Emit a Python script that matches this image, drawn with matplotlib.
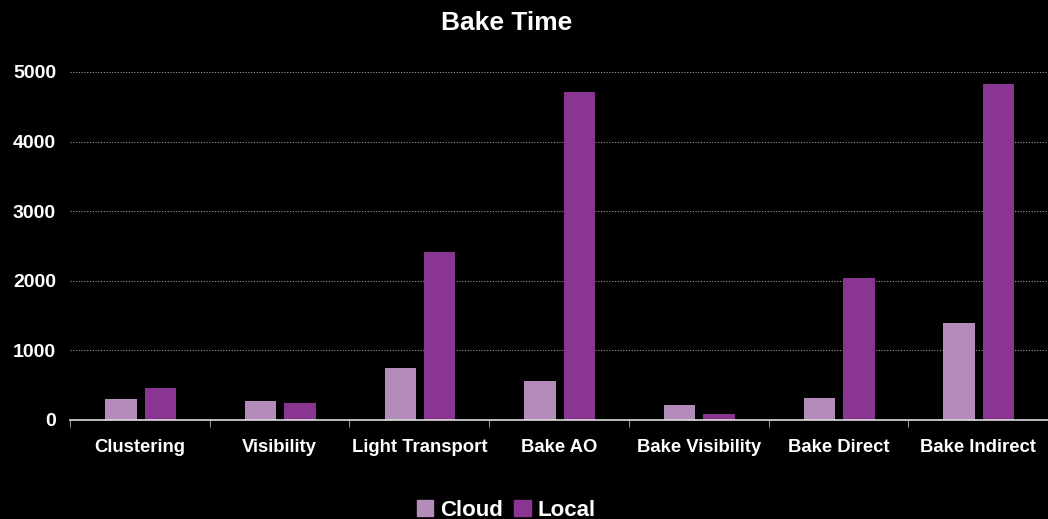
import numpy as np
import matplotlib
matplotlib.use("Agg")
import matplotlib.pyplot as plt
from matplotlib.patches import Patch

categories = ["Clustering", "Visibility", "Light Transport", "Bake AO",
              "Bake Visibility", "Bake Direct", "Bake Indirect"]
cloud = [300, 270, 750, 560, 210, 320, 1400]
local = [460, 250, 2420, 4710, 80, 2040, 4830]
yticks = [0, 1000, 2000, 3000, 4000, 5000]

cloud_color = "#b48cbb"
local_color = "#8b3593"

plt.rcParams["font.family"] = ["Liberation Sans", "DejaVu Sans"]

fig = plt.figure(figsize=(10.48, 5.19), dpi=100, facecolor="black")
ax = fig.add_axes([70 / 1048, 99 / 519, 978 / 1048, 348 / 519], facecolor="black")

x = np.arange(len(categories))
w = 0.225
ax.bar(x - 0.136, cloud, w, color=cloud_color, label="Cloud")
ax.bar(x + 0.146, local, w, color=local_color, label="Local")

ax.set_xlim(-0.5, len(categories) - 0.5)
ax.set_ylim(0, 5000)

# dotted horizontal grid
ax.set_yticks(yticks)
ax.yaxis.grid(True, linestyle=(0, (1, 1.5)), linewidth=0.8, color="#9a9a9a")
ax.set_axisbelow(True)
ax.tick_params(axis="y", length=0, colors="white", labelsize=14, pad=10)
for lbl in ax.get_yticklabels():
    lbl.set_fontweight("bold")

ax.set_xticks(x)
ax.set_xticklabels(categories, fontweight="bold")
ax.set_xticks(np.arange(len(categories) + 1) - 0.5, minor=True)
ax.tick_params(axis="x", which="major", length=0, colors="white", labelsize=13.3, pad=14)
ax.tick_params(axis="x", which="minor", length=5, color="#bbbbbb", direction="out")

for side in ["left", "right", "top"]:
    ax.spines[side].set_visible(False)
ax.spines["bottom"].set_color("#dddddd")
ax.spines["bottom"].set_linewidth(1.2)

fig.text(0.483, 0.956, "Bake Time", color="white", fontsize=19, fontweight="bold",
         ha="center", va="center")

handles = [Patch(color=cloud_color, label="Cloud"), Patch(color=local_color, label="Local")]
fig.legend(handles=handles, loc="center", bbox_to_anchor=(0.483, 0.017), ncol=2,
           frameon=False, labelcolor="white", handlelength=0.75,
           handleheight=0.75, handletextpad=0.3, columnspacing=0.5,
           prop={"weight": "bold", "size": 16})

fig.savefig("out.png", dpi=100, facecolor="black")
